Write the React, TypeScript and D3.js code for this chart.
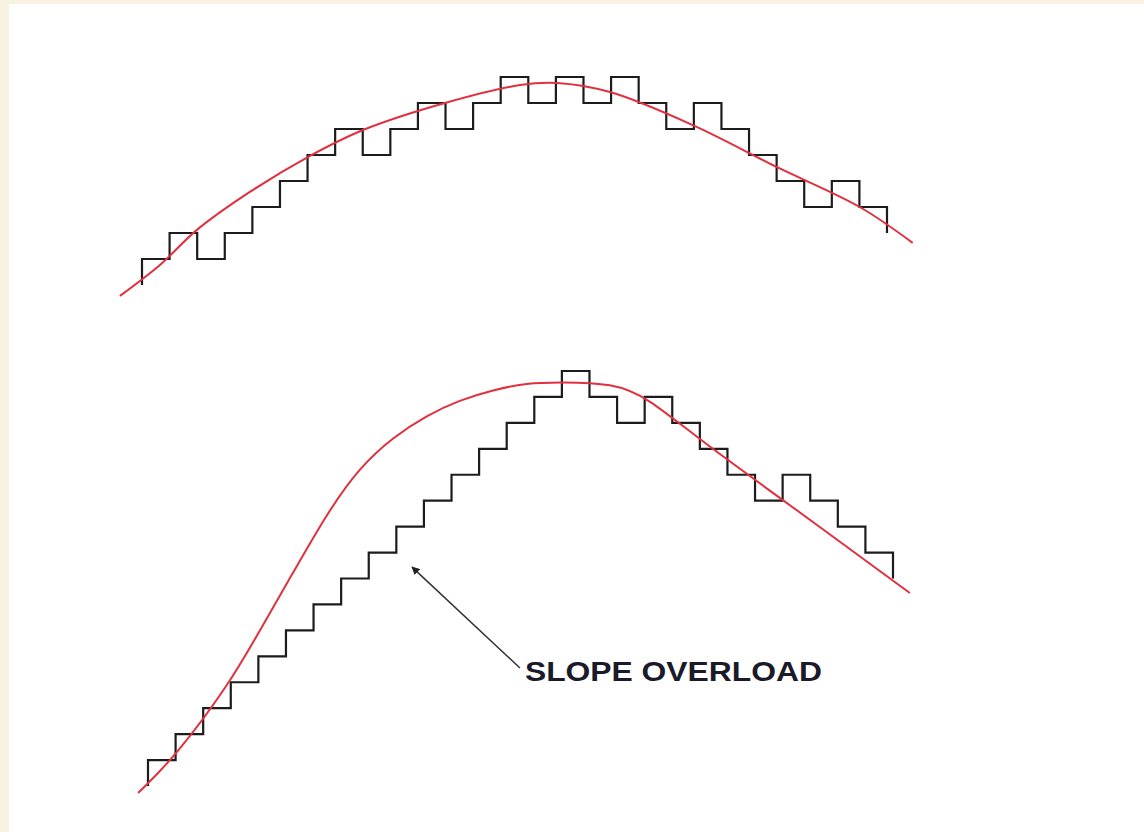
import React from "react";
import * as d3 from "d3";

// Delta-modulation staircase levels (step index -> quantiser level)
const topLevels = [0, 1, 2, 1, 2, 3, 4, 5, 6, 5, 6, 7, 6, 7, 8, 7, 8, 7, 8, 7, 6, 7, 6, 5, 4, 3, 4, 3, 2];
const bottomLevels = [0, 1, 2, 3, 4, 5, 6, 7, 8, 9, 10, 11, 12, 13, 14, 15, 16, 15, 14, 15, 14, 13, 12, 11, 12, 11, 10, 9, 8];

// Analog (red) signals, in the same units (x = step index, y = level)
const topSignalX = [-0.8, 0.65, 1.99, 3.91, 6.01, 8.01, 10.98, 13.7, 15.04, 16.96, 19.96, 23.0, 26.01, 27.93];
const topSignalY = [-0.42, 0.77, 2.12, 3.58, 4.92, 5.96, 7.0, 7.69, 7.77, 7.42, 6.15, 4.54, 3.0, 1.62];
const bottomSignalX = [-0.36, 0.98, 2.97, 4.06, 5.25, 6.49, 7.68, 8.88, 10.11, 11.3, 12.5, 13.73, 14.93, 16.85, 18.08, 20.0, 23.01, 27.61];
const bottomSignalY = [-0.27, 1.12, 3.97, 6.01, 8.21, 10.52, 12.3, 13.45, 14.3, 14.88, 15.27, 15.54, 15.57, 15.53, 15.0, 13.34, 11.03, 7.44];

// Annotation (bottom panel units)
const annotationLabel = "SLOPE OVERLOAD";
const arrowTip = [9.57, 8.44];
const arrowTail = [13.48, 4.55];
const labelAt = [13.66, 4.05];

const W = 1144;
const H = 832;

export default function App() {
  const nSteps = topLevels.length - 2; // 27 intervals

  const xTop = d3.scaleLinear().domain([0, nSteps]).range([142, 887]);
  const yTop = d3.scaleLinear().domain([0, 8]).range([285, 77]);
  const xBot = d3.scaleLinear().domain([0, nSteps]).range([148, 893]);
  const yBot = d3.scaleLinear().domain([0, 16]).range([786, 371]);

  const stairPts = (levels: number[]) =>
    levels.map((l, i) => [Math.min(i, nSteps), l] as [number, number]);

  const topStair = d3
    .line<[number, number]>()
    .x((d) => xTop(d[0]))
    .y((d) => yTop(d[1]))
    .curve(d3.curveStepBefore)(stairPts(topLevels));
  const botStair = d3
    .line<[number, number]>()
    .x((d) => xBot(d[0]))
    .y((d) => yBot(d[1]))
    .curve(d3.curveStepBefore)(stairPts(bottomLevels));

  const topSig = d3
    .line<number>()
    .x((d) => xTop(d))
    .y((_, i) => yTop(topSignalY[i]))
    .curve(d3.curveCatmullRom.alpha(0.5))(topSignalX);
  const botSig = d3
    .line<number>()
    .x((d) => xBot(d))
    .y((_, i) => yBot(bottomSignalY[i]))
    .curve(d3.curveBasis)(bottomSignalX);

  const tx = xBot(arrowTip[0]);
  const ty = yBot(arrowTip[1]);
  const sx = xBot(arrowTail[0]);
  const sy = yBot(arrowTail[1]);

  return (
    <div style={{ position: "absolute", left: 0, top: 0 }}>
      <svg width={W} height={H} style={{ display: "block" }}>
        <defs>
          <marker
            id="ah"
            viewBox="0 0 10 10"
            refX="9"
            refY="5"
            markerWidth="8"
            markerHeight="8"
            orient="auto"
            markerUnits="userSpaceOnUse"
          >
            <path d="M0,0 L10,5 L0,10 Z" fill="#222" />
          </marker>
        </defs>
        <rect x={0} y={0} width={W} height={H} fill="#f7f3e0" />
        <rect x={9} y={4} width={W - 9} height={H - 4} fill="#ffffff" />

        <path d={topStair || ""} fill="none" stroke="#1c1c1c" strokeWidth={2.2} />
        <path d={topSig || ""} fill="none" stroke="#e0303f" strokeWidth={2} />

        <path d={botStair || ""} fill="none" stroke="#1c1c1c" strokeWidth={2.2} />
        <path d={botSig || ""} fill="none" stroke="#e0303f" strokeWidth={2} />

        <line
          x1={sx}
          y1={sy}
          x2={tx}
          y2={ty}
          stroke="#333"
          strokeWidth={1.5}
          markerEnd="url(#ah)"
        />
        <text
          x={xBot(labelAt[0])}
          y={yBot(labelAt[1])}
          fontFamily="'Liberation Sans', Arial, sans-serif"
          fontWeight="bold"
          fontSize={27}
          fill="#1a1a2a"
          textLength={297}
          lengthAdjust="spacingAndGlyphs"
        >
          {annotationLabel}
        </text>
      </svg>
    </div>
  );
}
